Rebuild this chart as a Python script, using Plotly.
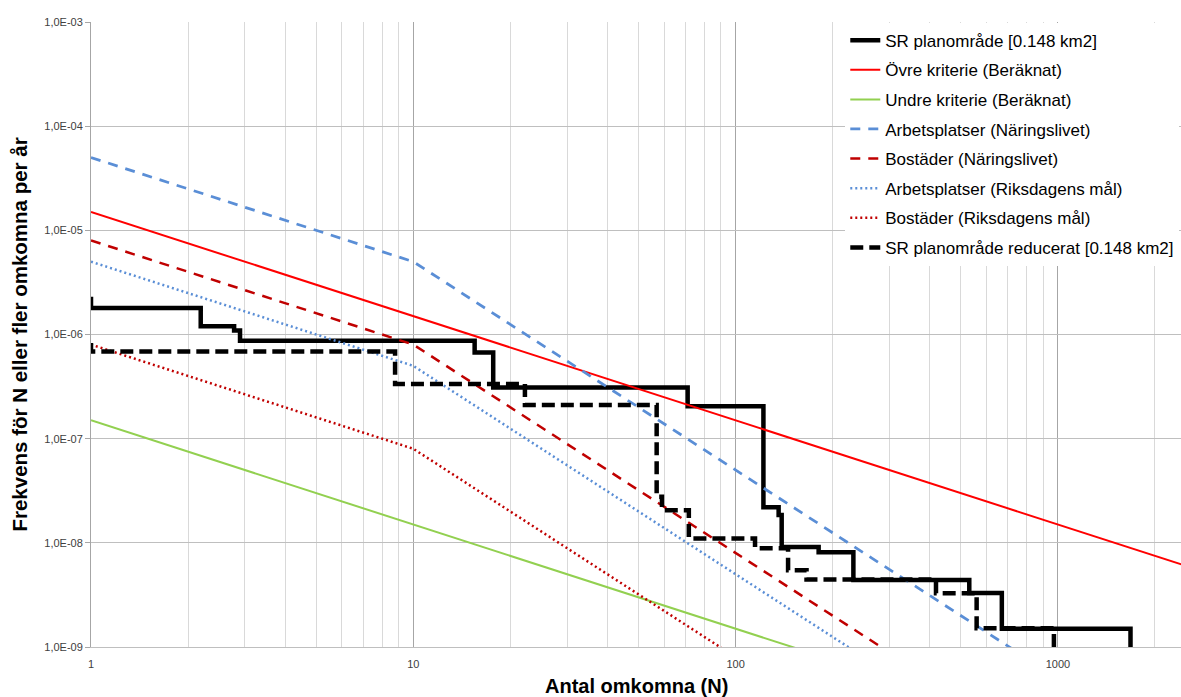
import plotly.graph_objects as go

# ---- data ----
sr_N = [1, 1, 2.19, 2.78, 2.90, 15.5, 17.7, 71, 122, 136, 139, 181, 232, 531, 670, 1680, 1680]
sr_F = [2.3e-6, 1.8e-6, 1.2e-6, 1.09e-6, 8.7e-7, 6.7e-7, 3.1e-7, 2.05e-7, 2.2e-8, 1.85e-8,
        9.1e-9, 8.1e-9, 4.4e-9, 3.3e-9, 1.5e-9, 1.5e-9, 1e-10]

red_N = [1, 1, 8.78, 22.2, 56.9, 59.1, 71.6, 114.9, 145.5, 166, 418.6, 559.6, 972, 972]
red_F = [8.3e-7, 6.85e-7, 3.35e-7, 2.1e-7, 2.77e-8, 2.06e-8, 1.1e-8, 8.87e-9, 5.46e-9,
         4.45e-9, 3.28e-9, 1.51e-9, 1.51e-9, 1e-10]

ovre_N = [1, 2500]
ovre_F = [1.5e-5, 6.0e-9]
undre_N = [1, 1000]
undre_F = [1.5e-7, 1.5e-10]
arb_nl_N = [1, 10, 1000]
arb_nl_F = [5e-5, 5e-6, 5e-10]
bos_nl_N = [1, 10, 1000]
bos_nl_F = [8e-6, 8e-7, 8e-11]
arb_rd_N = [1, 10, 1000]
arb_rd_F = [5e-6, 5e-7, 5e-11]
bos_rd_N = [1, 10, 1000]
bos_rd_F = [8e-7, 8e-8, 8e-12]

ytick_vals = [1e-9, 1e-8, 1e-7, 1e-6, 1e-5, 1e-4, 1e-3]
ytick_text = ["1,0E-09", "1,0E-08", "1,0E-07", "1,0E-06", "1,0E-05", "1,0E-04", "1,0E-03"]
xtick_vals = [1, 10, 100, 1000]
xtick_text = ["1", "10", "100", "1000"]

names = ["SR planområde [0.148 km2]", "Övre kriterie (Beräknat)", "Undre kriterie (Beräknat)",
         "Arbetsplatser (Näringslivet)", "Bostäder (Näringslivet)",
         "Arbetsplatser (Riksdagens mål)", "Bostäder (Riksdagens mål)",
         "SR planområde reducerat [0.148 km2]"]

BLUE = "#5A8ED6"
DRED = "#C00000"

fig = go.Figure()
fig.add_trace(go.Scatter(x=sr_N, y=sr_F, mode="lines", line=dict(color="black", width=4.5, shape="hv"),
                         name=names[0], legendgroup="a"))
fig.add_trace(go.Scatter(x=ovre_N, y=ovre_F, mode="lines", line=dict(color="#FF0000", width=2),
                         name=names[1], legendgroup="b"))
fig.add_trace(go.Scatter(x=undre_N, y=undre_F, mode="lines", line=dict(color="#92D050", width=2),
                         name=names[2], legendgroup="c"))
fig.add_trace(go.Scatter(x=arb_nl_N, y=arb_nl_F, mode="lines", line=dict(color=BLUE, width=2.75, dash="10px,8px"),
                         name=names[3], legendgroup="d"))
fig.add_trace(go.Scatter(x=bos_nl_N, y=bos_nl_F, mode="lines", line=dict(color=DRED, width=2.5, dash="10px,8px"),
                         name=names[4], legendgroup="e"))
fig.add_trace(go.Scatter(x=arb_rd_N, y=arb_rd_F, mode="lines", line=dict(color=BLUE, width=2.5, dash="2px,3px"),
                         name=names[5], legendgroup="f"))
fig.add_trace(go.Scatter(x=bos_rd_N, y=bos_rd_F, mode="lines", line=dict(color=DRED, width=2.5, dash="2px,3px"),
                         name=names[6], legendgroup="g"))
fig.add_trace(go.Scatter(x=red_N, y=red_F, mode="lines", line=dict(color="black", width=4.5, dash="13px,6px", shape="hv"),
                         name=names[7], legendgroup="h"))

fig.update_layout(
    width=1181, height=697,
    margin=dict(l=91, r=0, t=22, b=50),
    paper_bgcolor="white", plot_bgcolor="white",
    font=dict(family="Liberation Sans", color="black"),
    showlegend=True,
    legend=dict(x=0.692, y=0.999, xanchor="left", yanchor="top",
                bgcolor="white", borderwidth=0,
                font=dict(family="Liberation Sans", size=17, color="black"),
                traceorder="grouped", tracegroupgap=4.5),
    xaxis=dict(type="log", range=[0, 3.382], tickvals=xtick_vals, ticktext=xtick_text,
               showgrid=True, gridcolor="#A6A6A6", gridwidth=1,
               minor=dict(dtick="D1", showgrid=True, gridcolor="#D9D9D9", gridwidth=1, ticks=""),
               showline=True, linecolor="#BFBFBF", linewidth=1,
               ticks="", ticklabelstandoff=7,
               tickfont=dict(family="Liberation Sans", size=11, color="#404040"),
               zeroline=False),
    yaxis=dict(type="log", range=[-9, -3], tickvals=ytick_vals, ticktext=ytick_text,
               showgrid=True, gridcolor="#BFBFBF", gridwidth=1,
               showline=True, linecolor="#A6A6A6", linewidth=1,
               ticks="outside", ticklen=5, tickcolor="#A6A6A6",
               tickfont=dict(family="Liberation Sans", size=11, color="#404040"),
               zeroline=False),
    annotations=[
        dict(text="<b>Antal omkomna (N)</b>", xref="paper", yref="paper", x=0.5, y=-0.062,
             xanchor="center", yanchor="middle", showarrow=False,
             font=dict(family="Liberation Sans", size=20, color="black")),
        dict(text="<b>Frekvens för N eller fler omkomna per år</b>", xref="paper", yref="paper",
             x=-0.066, y=0.5, xanchor="center", yanchor="middle", textangle=-90, showarrow=False,
             font=dict(family="Liberation Sans", size=20.5, color="black")),
    ],
)

fig.write_html("out.html")
